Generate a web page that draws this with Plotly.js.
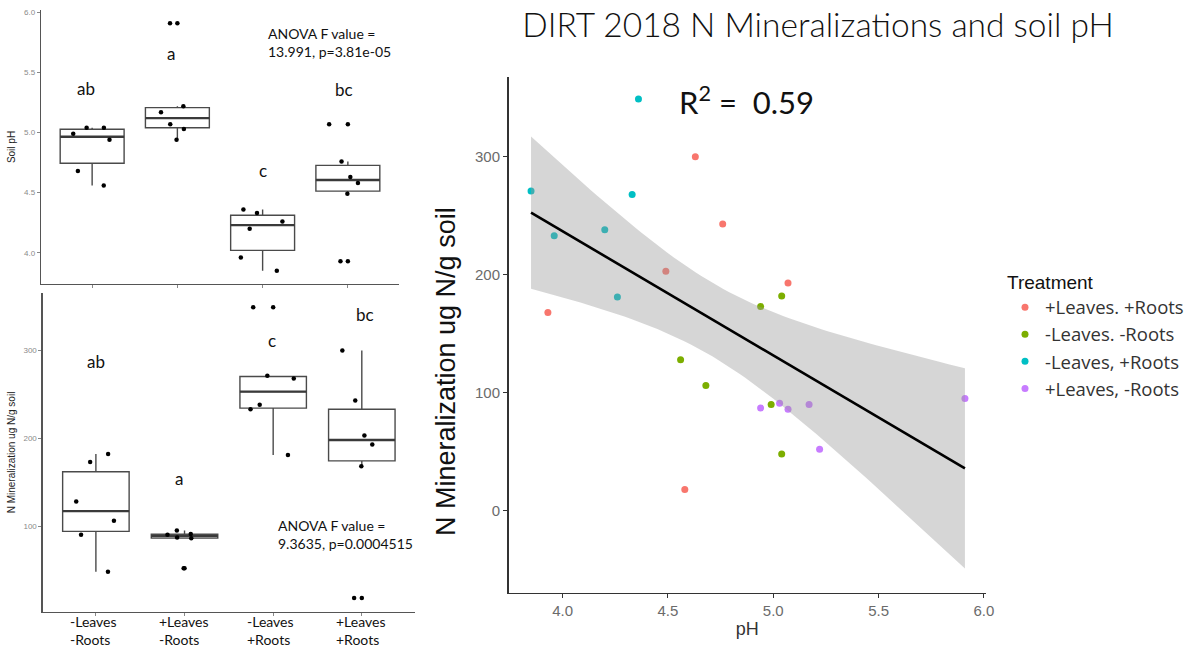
<!DOCTYPE html>
<html><head><meta charset="utf-8">
<script src="https://cdn.plot.ly/plotly-3.0.1.min.js"></script>
<style>html,body{margin:0;padding:0;background:#fff}#chart{width:1189px;height:651px}</style>
</head><body><div id="chart"></div>
<script>
// ---------- DATA ----------
// Treatment category labels for the two box-plot panels (left), two lines each
const groupLine1 = ['-Leaves', '+Leaves', '-Leaves', '+Leaves'];
const groupLine2 = ['-Roots', '-Roots', '+Roots', '+Roots'];
// Soil pH per sample (same sample order as the N arrays below)
const phNoLeavesNoRoots = [5.04, 4.94, 4.56, 4.68, 4.99, 5.04];
const phLeavesNoRoots   = [5.91, 5.17, 5.03, 4.94, 5.07, 5.22];
const phNoLeavesRoots   = [4.36, 3.85, 4.33, 4.20, 3.96, 4.26];
const phLeavesRoots     = [4.63, 4.76, 4.49, 5.07, 3.93, 4.58];
// N mineralization (ug N/g soil) per sample
const nNoLeavesNoRoots = [182, 173, 128, 106, 90, 48];
const nLeavesNoRoots   = [95, 90, 91, 87, 86, 52];
const nNoLeavesRoots   = [349, 271, 268, 238, 233, 181];
const nLeavesRoots     = [300, 243, 203, 193, 168, 18];
// Scatter legend labels (right panel), in legend order
const legendLabels = ['+Leaves. +Roots', '-Leaves. -Roots', '-Leaves, +Roots', '+Leaves, -Roots'];
const pYTicks = [4.0, 4.5, 5.0, 5.5, 6.0];
const nYTicks = [100, 200, 300];
const scatterXTicks = [4.0, 4.5, 5.0, 5.5, 6.0];
const scatterYTicks = [0, 100, 200, 300];
const r2Text = 'R<sup>2</sup> =  0.59';
const anovaPh = 'ANOVA F value =<br>13.991, p=3.81e-05';
const anovaN = 'ANOVA F value =<br>9.3635, p=0.0004515';
const lettersPh = ['ab', 'a', 'c', 'bc'];
const lettersN = ['ab', 'a', 'c', 'bc'];

// ---------- HELPERS ----------
const groups = groupLine1.map((a, i) => a + ' ' + groupLine2[i]);
const W = 1189, H = 651;
const px = v => v / W, py = v => 1 - v / H;
function q7(s, p) { const h = (s.length - 1) * p, lo = Math.floor(h); const hi = Math.min(lo + 1, s.length - 1); return s[lo] + (h - lo) * (s[hi] - s[lo]); }
function boxStats(samples) {
  const o = {q1: [], med: [], q3: [], lf: [], uf: []};
  samples.forEach(a => {
    const s = [...a].sort((x, y) => x - y);
    const a1 = q7(s, .25), m = q7(s, .5), a3 = q7(s, .75), iqr = a3 - a1;
    o.q1.push(a1); o.med.push(m); o.q3.push(a3);
    o.lf.push(Math.min(...s.filter(v => v >= a1 - 1.5 * iqr)));
    o.uf.push(Math.max(...s.filter(v => v <= a3 + 1.5 * iqr)));
  });
  return o;
}
function boxTraces(samples, xa, ya) {
  const st = boxStats(samples);
  const common = {type: 'box', x: groups, y: samples, q1: st.q1, median: st.med, q3: st.q3,
    lowerfence: st.lf, upperfence: st.uf, xaxis: xa, yaxis: ya, width: 0.75, whiskerwidth: 0,
    showlegend: false, hoverinfo: 'skip'};
  return [
    // boxes + whiskers
    Object.assign({}, common, {boxpoints: false, fillcolor: 'rgba(255,255,255,0)',
      line: {color: '#4a4a4a', width: 1.4}}),
    // fattened median line (ggplot draws the median twice as thick)
    {type: 'box', x: groups, q1: st.med, median: st.med, q3: st.med, lowerfence: st.med, upperfence: st.med,
      xaxis: xa, yaxis: ya, width: 0.75, whiskerwidth: 0, boxpoints: false, showlegend: false, hoverinfo: 'skip',
      fillcolor: 'rgba(0,0,0,0)', line: {color: '#3a3a3a', width: 2.4}},
    // jittered sample points
    Object.assign({}, common, {boxpoints: 'all', jitter: 0.7, pointpos: 0, fillcolor: 'rgba(0,0,0,0)',
      line: {color: 'rgba(0,0,0,0)', width: 0}, marker: {color: '#000', size: 4.5}}),
    // outliers drawn again at the box centre
    Object.assign({}, common, {boxpoints: 'outliers', jitter: 0, pointpos: 0, fillcolor: 'rgba(0,0,0,0)',
      line: {color: 'rgba(0,0,0,0)', width: 0}, marker: {color: '#000', size: 4.5}})
  ];
}

const phSamples = [phNoLeavesNoRoots, phLeavesNoRoots, phNoLeavesRoots, phLeavesRoots];
const nSamples = [nNoLeavesNoRoots, nLeavesNoRoots, nNoLeavesRoots, nLeavesRoots];

const traces = [];
boxTraces(phSamples, 'x', 'y').forEach(t => traces.push(t));
boxTraces(nSamples, 'x2', 'y2').forEach(t => traces.push(t));

// scatter: legend order
const colors = ['#F8766D', '#7CAE00', '#00BFC4', '#C77CFF'];
const scatterPh = [phLeavesRoots, phNoLeavesNoRoots, phNoLeavesRoots, phLeavesNoRoots];
const scatterN = [nLeavesRoots, nNoLeavesNoRoots, nNoLeavesRoots, nLeavesNoRoots];
legendLabels.forEach((lab, i) => {
  traces.push({type: 'scatter', mode: 'markers', x: scatterPh[i], y: scatterN[i], name: lab,
    legendgroup: 'g' + i, xaxis: 'x3', yaxis: 'y3', marker: {color: colors[i], size: 7}, hoverinfo: 'skip'});
});

// linear fit + 95% CI (geom_smooth method = lm)
const allX = [].concat(...scatterPh), allY = [].concat(...scatterN);
const n = allX.length;
const mx = allX.reduce((a, b) => a + b) / n, my = allY.reduce((a, b) => a + b) / n;
let sxx = 0, sxy = 0; allX.forEach((x, i) => { sxx += (x - mx) ** 2; sxy += (x - mx) * (allY[i] - my); });
const b1 = sxy / sxx, b0 = my - b1 * mx;
let sse = 0; allX.forEach((x, i) => { sse += (allY[i] - b0 - b1 * x) ** 2; });
const s = Math.sqrt(sse / (n - 2)), tq = 2.0739;
const xmin = Math.min(...allX), xmax = Math.max(...allX);
const gx = [], gy = [], gu = [], gl = [];
for (let k = 0; k < 80; k++) {
  const x = xmin + (xmax - xmin) * k / 79; const f = b0 + b1 * x;
  const se = s * Math.sqrt(1 / n + (x - mx) ** 2 / sxx);
  gx.push(x); gy.push(f); gu.push(f + tq * se); gl.push(f - tq * se);
}
traces.push({type: 'scatter', mode: 'lines', x: gx.concat([...gx].reverse()), y: gu.concat([...gl].reverse()),
  fill: 'toself', fillcolor: 'rgba(153,153,153,0.4)', line: {width: 0}, xaxis: 'x3', yaxis: 'y3',
  showlegend: false, hoverinfo: 'skip'});
traces.push({type: 'scatter', mode: 'lines', x: gx, y: gy, line: {color: '#000', width: 2.6},
  xaxis: 'x3', yaxis: 'y3', showlegend: false, hoverinfo: 'skip'});

// ---------- LAYOUT ----------
const smallAxis = {showline: true, linecolor: '#555', linewidth: 1.3, ticks: 'outside', ticklen: 3,
  tickcolor: '#888', tickwidth: 1, showgrid: false, zeroline: false};
const ppt = 'Lato, "Open Sans", sans-serif';
const layout = {
  width: W, height: H, margin: {l: 0, r: 0, t: 0, b: 0}, paper_bgcolor: '#fff', plot_bgcolor: 'rgba(0,0,0,0)',
  boxmode: 'overlay', showlegend: true,
  font: {family: '"Liberation Sans", Arial, sans-serif', color: '#000'},
  title: {text: 'DIRT 2018 N Mineralizations and soil pH', x: px(818), y: py(25), xanchor: 'center', yanchor: 'middle',
    xref: 'paper', yref: 'paper', font: {family: ppt, size: 33.5, weight: 300, color: '#111'}},
  xaxis: Object.assign({}, smallAxis, {domain: [px(41), px(399)], anchor: 'y', type: 'category',
    categoryorder: 'array', categoryarray: groups, range: [-0.6, 3.6], showticklabels: false}),
  yaxis: Object.assign({}, smallAxis, {domain: [py(284), py(10)], anchor: 'x', range: [3.74, 6.02],
    tickvals: pYTicks, tickformat: '.1f', tickfont: {size: 8, color: '#8a8a8a'},
    title: {text: 'Soil pH', font: {size: 10, color: '#222'}, standoff: 6}}),
  xaxis2: Object.assign({}, smallAxis, {domain: [px(42.7), px(415)], anchor: 'y2', type: 'category',
    categoryorder: 'array', categoryarray: groups, range: [-0.6, 3.6], showticklabels: false}),
  yaxis2: Object.assign({}, smallAxis, {domain: [py(611.7), py(293.3)], anchor: 'x2', range: [2.5, 365],
    tickvals: nYTicks, tickfont: {size: 8, color: '#8a8a8a'},
    title: {text: 'N Mineralization ug N/g soil', font: {size: 10, color: '#222'}, standoff: 6}}),
  xaxis3: {domain: [px(508.5), px(986)], anchor: 'y3', range: [3.743, 6.01], tickvals: scatterXTicks, tickformat: '.1f',
    showline: true, linecolor: '#333', linewidth: 1.5, ticks: 'outside', ticklen: 4, tickcolor: '#333',
    showgrid: false, zeroline: false, tickfont: {size: 15, color: '#6b6b6b'},
    title: {text: 'pH', font: {size: 18, color: '#333'}, standoff: 4}},
  yaxis3: {domain: [py(592.7), py(76.7)], anchor: 'x3', range: [-69.5, 367.8], tickvals: scatterYTicks,
    showline: true, linecolor: '#333', linewidth: 1.5, ticks: 'outside', ticklen: 4, tickcolor: '#333',
    showgrid: false, zeroline: false, tickfont: {size: 15, color: '#6b6b6b'}},
  legend: {x: px(1005), y: py(264), xanchor: 'left', yanchor: 'top', traceorder: 'grouped', tracegroupgap: 0,
    bgcolor: 'rgba(0,0,0,0)', font: {family: '"Open Sans", sans-serif', size: 18.5, color: '#333'},
    title: {text: 'Treatment', font: {family: '"Liberation Sans", Arial, sans-serif', size: 19, color: '#111'}}},
  annotations: []
};
const ann = (t, x, y, size, xa) => ({text: t, x: px(x), y: py(y), xref: 'paper', yref: 'paper', showarrow: false,
  xanchor: xa || 'center', yanchor: 'middle', align: 'left', font: {family: ppt, size: size, color: '#111'}});
[[86, 88], [171, 53], [263, 171], [344, 89]].forEach((p, i) => layout.annotations.push(ann(lettersPh[i], p[0], p[1], 17)));
[[96, 361], [179, 478], [272, 340], [365, 314]].forEach((p, i) => layout.annotations.push(ann(lettersN[i], p[0], p[1], 17)));
layout.annotations.push(ann(anovaPh, 266, 43, 14, 'left'));
layout.annotations.push(ann(anovaN, 276, 534, 14, 'left'));
layout.annotations.push(ann(r2Text, 677, 101, 31, 'left'));
// scatter y-axis title (sits below the panel centre in the reference)
layout.annotations.push({text: 'N Mineralization ug N/g soil', x: px(446), y: py(372), xref: 'paper', yref: 'paper',
  showarrow: false, textangle: -90, xanchor: 'center', yanchor: 'middle',
  font: {family: '"Liberation Sans", Arial, sans-serif', size: 27, color: '#111'}});
// two-line, left-aligned category labels under the lower box plot
groups.forEach((g, i) => {
  layout.annotations.push({text: groupLine1[i] + '<br>' + groupLine2[i], x: g, xref: 'x2', y: py(630.5), yref: 'paper',
    xanchor: 'left', xshift: -28, yanchor: 'middle', align: 'left', showarrow: false,
    font: {family: ppt, size: 14, color: '#111'}});
});

Plotly.newPlot('chart', traces, layout, {staticPlot: true});
</script></body></html>
